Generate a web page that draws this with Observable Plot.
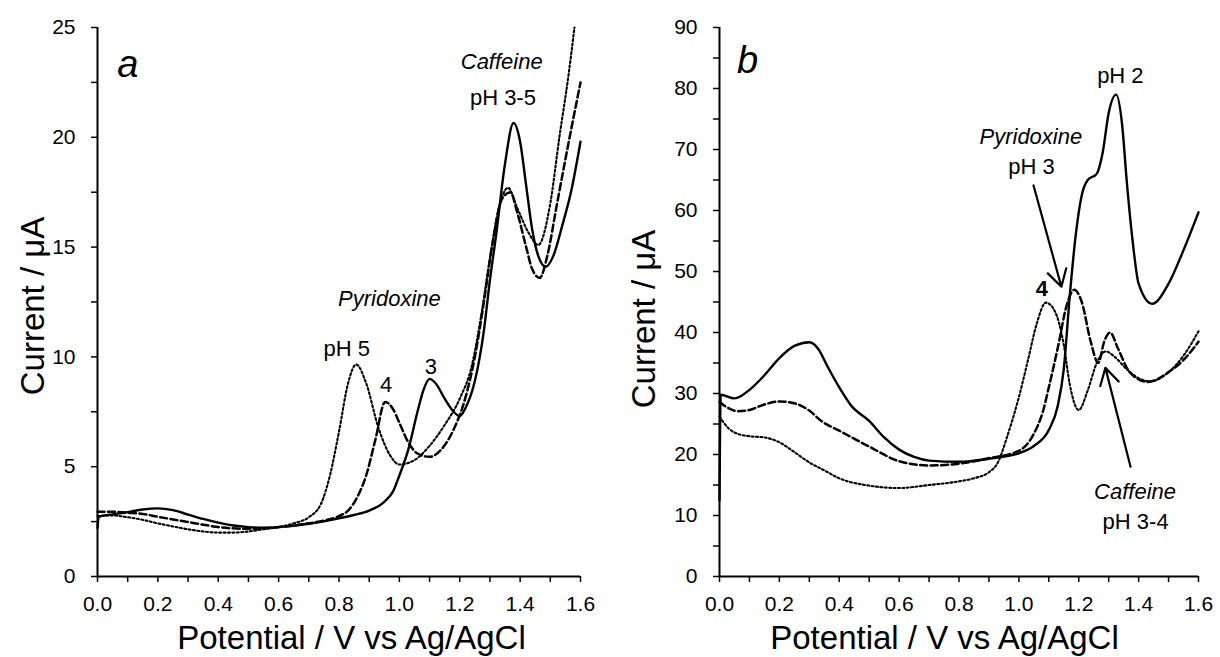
<!DOCTYPE html>
<html><head><meta charset="utf-8">
<script src="https://cdn.jsdelivr.net/npm/d3@7"></script>
<script src="https://cdn.jsdelivr.net/npm/@observablehq/plot@0.6"></script>
<style>
body{margin:0;background:#fff;}
#wrap{display:flex;width:1220px;height:657px;}
svg g[aria-label$="tick label"], svg g[aria-label$="tick label"] text{font-size:21px !important;}
</style></head><body><div id="wrap"></div>
<script>
// ---------- Panel a : potential (V) , current (µA) ----------
const a_pH3 = [[0,2.2],[0.004,2.72],[0.05,2.83],[0.1,2.93],[0.15,3.05],[0.2,3.1],[0.25,3.02],[0.3,2.82],[0.35,2.62],[0.4,2.45],[0.45,2.32],[0.5,2.25],[0.55,2.22],[0.6,2.25],[0.7,2.4],[0.8,2.65],[0.85,2.8],[0.9,3.0],[0.95,3.4],[0.98,3.9],[1.0,4.6],[1.03,5.8],[1.06,7.5],[1.08,8.5],[1.1,9.0],[1.12,8.8],[1.15,8.1],[1.18,7.5],[1.2,7.3],[1.22,7.7],[1.25,8.9],[1.28,11.2],[1.3,13.5],[1.32,15.5],[1.35,18.8],[1.378,20.65],[1.4,19.8],[1.42,17.8],[1.44,15.8],[1.46,14.6],[1.485,14.1],[1.51,14.6],[1.54,16.0],[1.57,17.6],[1.6,19.8]];
const a_pH4 = [[0,2.95],[0.05,2.95],[0.1,2.9],[0.15,2.85],[0.2,2.72],[0.25,2.6],[0.3,2.48],[0.35,2.36],[0.4,2.25],[0.5,2.17],[0.6,2.25],[0.7,2.42],[0.75,2.55],[0.8,2.75],[0.83,3.0],[0.86,3.6],[0.89,4.6],[0.92,6.2],[0.953,7.95],[0.98,7.6],[1.0,7.0],[1.03,6.1],[1.06,5.6],[1.1,5.45],[1.14,5.8],[1.18,6.7],[1.22,8.2],[1.25,10.0],[1.28,12.5],[1.31,15.3],[1.34,17.2],[1.368,17.5],[1.39,16.6],[1.42,15.0],[1.44,14.0],[1.465,13.6],[1.49,14.6],[1.52,16.8],[1.55,19.0],[1.6,22.5]];
const a_pH5 = [[0,2.75],[0.05,2.78],[0.1,2.7],[0.15,2.58],[0.2,2.42],[0.25,2.28],[0.3,2.15],[0.35,2.05],[0.4,2.0],[0.45,2.0],[0.5,2.05],[0.55,2.15],[0.6,2.25],[0.65,2.42],[0.7,2.7],[0.74,3.3],[0.77,4.6],[0.8,6.6],[0.83,8.8],[0.857,9.65],[0.89,8.8],[0.93,6.8],[0.97,5.5],[1.0,5.1],[1.05,5.3],[1.1,5.95],[1.15,6.9],[1.2,8.1],[1.24,9.6],[1.27,11.8],[1.3,14.5],[1.33,16.8],[1.36,17.7],[1.39,16.8],[1.43,15.6],[1.46,15.1],[1.5,17.0],[1.53,20.0],[1.56,22.8],[1.58,25.0]];

// ---------- Panel b ----------
const b_pH2 = [[0,12.5],[0.004,29.8],[0.05,29.2],[0.1,30.6],[0.15,33.0],[0.2,35.8],[0.25,37.8],[0.3,38.4],[0.33,37.3],[0.36,34.5],[0.4,31.0],[0.44,28.0],[0.5,25.5],[0.55,22.8],[0.6,20.8],[0.65,19.6],[0.7,19.0],[0.8,18.8],[0.9,19.3],[1.0,20.2],[1.05,21.4],[1.1,24.0],[1.13,28.0],[1.15,34.0],[1.17,46.0],[1.19,56.0],[1.21,62.5],[1.23,65.0],[1.26,66.0],[1.28,69.5],[1.3,76.0],[1.325,79.0],[1.345,74.0],[1.36,65.0],[1.38,55.0],[1.4,48.0],[1.445,44.7],[1.5,48.0],[1.55,53.5],[1.6,59.7]];
const b_pH3 = [[0,28.6],[0.03,27.6],[0.06,27.1],[0.1,27.3],[0.15,28.2],[0.2,28.7],[0.25,28.4],[0.3,27.2],[0.34,25.5],[0.4,23.9],[0.5,21.3],[0.6,18.9],[0.7,18.2],[0.8,18.5],[0.9,19.4],[1.0,20.6],[1.05,23.4],[1.08,27.0],[1.1,31.0],[1.13,37.5],[1.16,44.5],[1.185,47.0],[1.21,45.0],[1.24,38.5],[1.265,35.0],[1.285,38.5],[1.305,40.0],[1.33,37.5],[1.37,33.5],[1.43,31.9],[1.5,33.5],[1.55,35.5],[1.6,38.5]];
const b_pH4 = [[0,26.2],[0.03,24.3],[0.06,23.4],[0.1,23.0],[0.15,22.8],[0.2,22.0],[0.25,20.4],[0.3,18.7],[0.35,17.4],[0.4,16.1],[0.5,14.9],[0.6,14.5],[0.7,15.0],[0.8,15.6],[0.85,16.1],[0.9,17.1],[0.93,18.7],[0.96,22.8],[1.0,29.4],[1.03,35.4],[1.06,41.5],[1.09,44.9],[1.12,43.5],[1.15,38.0],[1.17,31.5],[1.2,27.3],[1.23,30.5],[1.26,35.0],[1.29,36.9],[1.32,36.0],[1.36,34.0],[1.4,32.5],[1.44,32.0],[1.5,33.5],[1.55,36.2],[1.6,40.2]];

// ---------- ticks ----------
const xTicks = [0,0.1,0.2,0.3,0.4,0.5,0.6,0.7,0.8,0.9,1.0,1.1,1.2,1.3,1.4,1.5,1.6];
const yTicksA = [0,2.5,5,7.5,10,12.5,15,17.5,20,22.5,25];
const yTicksB = [0,5,10,15,20,25,30,35,40,45,50,55,60,65,70,75,80,85,90];

// ---------- annotations ----------
const letterA = ["a"], letterAx = [0.10], letterAy = [23.3];
const italicA = ["Caffeine","Pyridoxine"], italicAx = [1.339,0.967], italicAy = [23.45,12.66];
const plainA = ["pH 3-5","pH 5","4","3"], plainAx = [1.343,0.826,0.956,1.104], plainAy = [21.77,10.34,8.73,9.56];

const letterB = ["b"], letterBx = [0.094], letterBy = [84.5];
const italicB = ["Pyridoxine","Caffeine"], italicBx = [1.04,1.388], italicBy = [72.1,13.9];
const plainB = ["pH 2","pH 3","pH 3-4"], plainBx = [1.339,1.042,1.39], plainBy = [82.1,67.2,9.0];
const boldB = ["4"], boldBx = [1.077], boldBy = [47.2];
const arrowX1 = [1.049,1.373], arrowY1 = [64.1,18.0], arrowX2 = [1.142,1.289], arrowY2 = [47.5,34.2];

const xTitle = "Potential / V vs Ag/AgCl";
const yTitle = "Current / μA";

const FONT = "'Liberation Sans', Arial, Helvetica, sans-serif";

function lines(s3, s4, s5) {
  return [
    Plot.line(s5, {x: d => d[0], y: d => d[1], curve: "monotone-x", stroke: "black", strokeWidth: 2.1, strokeDasharray: "2,2.4"}),
    Plot.line(s4, {x: d => d[0], y: d => d[1], curve: "monotone-x", stroke: "black", strokeWidth: 2.5, strokeDasharray: "7,3.5"}),
    Plot.line(s3, {x: d => d[0], y: d => d[1], curve: "monotone-x", stroke: "black", strokeWidth: 2.4})
  ];
}
function texts(arr, xs, ys, opts) {
  return Plot.text(arr, {x: (d, i) => xs[i], y: (d, i) => ys[i], text: d => d, fill: "black", lineAnchor: "middle", ...opts});
}

function panel(o) {
  return Plot.plot({
    width: 610, height: 657,
    marginLeft: o.ml, marginRight: o.mr, marginTop: 27, marginBottom: 81,
    style: {fontFamily: FONT, fontSize: "21px", color: "black", background: "white", overflow: "visible"},
    x: {domain: [0, 1.6], label: null},
    y: {domain: [0, o.ymax], label: null},
    marks: [
      Plot.axisX({ticks: xTicks, tickSize: 6, tickPadding: 14, strokeWidth: 1.5, fontSize: 21,
        tickFormat: d => (Math.round(d * 10) % 2 === 0 ? d.toFixed(1) : "")}),
      Plot.axisY({ticks: o.yTicks, tickSize: 6, tickPadding: 16, strokeWidth: 1.5, fontSize: 21,
        tickFormat: d => (Math.round(d * 10) % o.labelEvery === 0 ? String(d) : "")}),
      Plot.ruleX([0], {stroke: "black", strokeWidth: 2}),
      Plot.ruleY([0], {stroke: "black", strokeWidth: 2}),
      ...o.marks,
      Plot.text([xTitle], {frameAnchor: "bottom", textAnchor: "middle", lineAnchor: "middle", dy: 62, dx: o.xdx, fontSize: 33, fill: "black"}),
      Plot.text([yTitle], {frameAnchor: "left", textAnchor: "middle", lineAnchor: "middle", rotate: -90, dx: o.ydx, dy: o.ydy, fontSize: 33, fill: "black"})
    ]
  });
}

const svgA = panel({
  ml: 97, mr: 30, ymax: 25, yTicks: yTicksA, labelEvery: 50, xdx: 12.5, ydx: -64, ydy: 4,
  marks: [
    ...lines(a_pH3, a_pH4, a_pH5),
    texts(letterA, letterAx, letterAy, {fontSize: 38, fontStyle: "italic"}),
    texts(italicA, italicAx, italicAy, {fontSize: 22, fontStyle: "italic"}),
    texts(plainA, plainAx, plainAy, {fontSize: 22})
  ]
});
const svgB = panel({
  ml: 109, mr: 22, ymax: 90, yTicks: yTicksB, labelEvery: 100, xdx: -14.5, ydx: -75, ydy: 17,
  marks: [
    ...lines(b_pH2, b_pH3, b_pH4),
    Plot.arrow(arrowX1, {x1: (d, i) => arrowX1[i], y1: (d, i) => arrowY1[i], x2: (d, i) => arrowX2[i], y2: (d, i) => arrowY2[i], stroke: "black", strokeWidth: 2.2, headLength: 13}),
    texts(letterB, letterBx, letterBy, {fontSize: 38, fontStyle: "italic"}),
    texts(italicB, italicBx, italicBy, {fontSize: 22, fontStyle: "italic"}),
    texts(plainB, plainBx, plainBy, {fontSize: 22}),
    texts(boldB, boldBx, boldBy, {fontSize: 22, fontWeight: "bold"})
  ]
});
document.getElementById("wrap").append(svgA, svgB);
</script></body></html>
